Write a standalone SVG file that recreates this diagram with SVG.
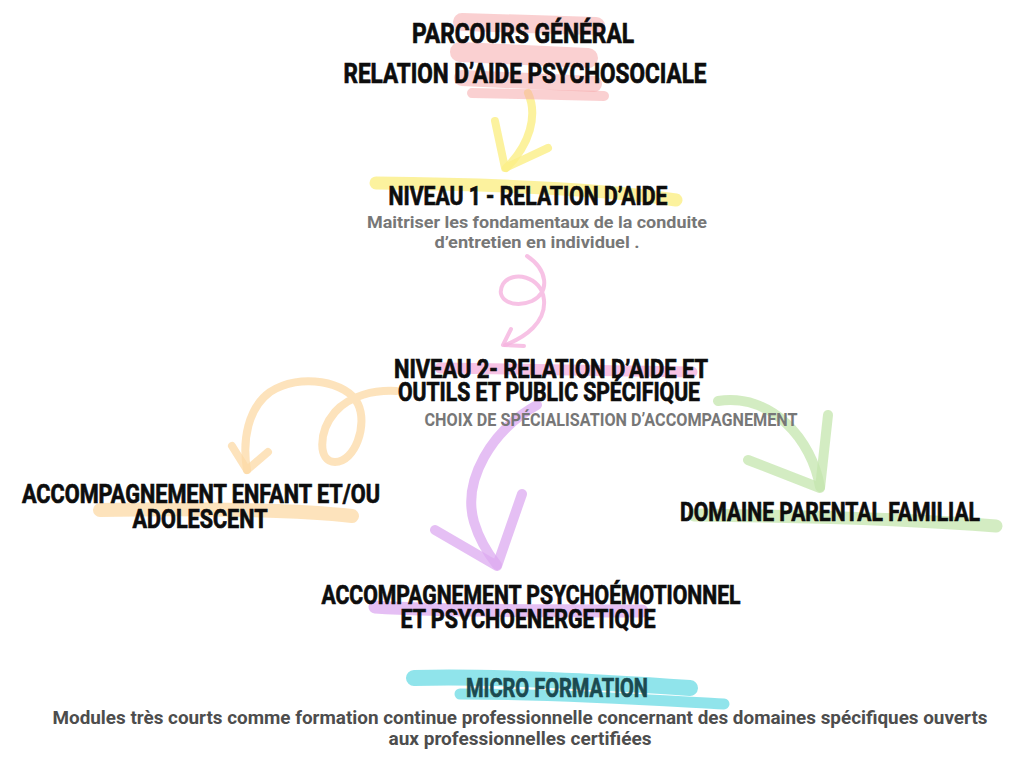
<svg xmlns="http://www.w3.org/2000/svg" width="1024" height="768" viewBox="0 0 1024 768">
<style>
  .h{font-family:"Roboto","Liberation Sans",sans-serif;font-weight:700;fill:#0d0d0d;stroke:#0d0d0d;stroke-width:0.7;text-anchor:middle;}
  .g{font-family:"Roboto","Liberation Sans",sans-serif;font-weight:700;fill:#777777;text-anchor:middle;}
  .d{font-family:"Roboto","Liberation Sans",sans-serif;font-weight:700;fill:#4d4d4d;text-anchor:middle;}
  .mk{fill:none;stroke-linecap:round;stroke-linejoin:round;}
  .red{stroke:#f6a9ab;opacity:0.55;}
  .yel{stroke:#fbef86;opacity:0.8;}
  .pnk{stroke:#f5b3df;opacity:0.8;}
  .org{stroke:#fcd9a6;opacity:0.75;}
  .pur{stroke:#dcaaf0;opacity:0.75;}
  .grn{stroke:#c4e5ae;opacity:0.75;}
  .cyn{stroke:#74dde6;opacity:0.8;}
</style>
<rect width="1024" height="768" fill="#ffffff"/>

<g id="connectors">
  <g id="c-yellow">
    <path class="mk yel" stroke-width="8" d="M528,93 C538,115 530,145 506,168"/>
    <path class="mk yel" stroke-width="8" d="M495,121 L505,168 L548,148"/>
  </g>
  <g id="c-pink">
    <path class="mk pnk" stroke-width="4" d="M527,256 C548,270 550,292 532,301 C514,309 494,300 503,284 C512,270 542,276 544,300 C546,322 526,337 505,345"/>
    <path class="mk pnk" stroke-width="4" d="M511,329 L503,345 L524,346"/>
  </g>
  <g id="c-orange">
    <path class="mk org" stroke-width="8" d="M396,391 C375,390 350,395 335,412 C318,432 318,462 335,462 C355,462 368,425 358,404 C348,382 300,372 270,392 C248,408 242,440 247,470"/>
    <path class="mk org" stroke-width="8" d="M232,446 L247,470 L268,452"/>
  </g>
  <g id="c-purple">
    <path class="mk pur" stroke-width="10" d="M537,405 C492,430 462,480 474,522 C480,542 489,555 497,565"/>
    <path class="mk pur" stroke-width="10" d="M435,530 L497,566 L522,494"/>
  </g>
  <g id="c-green">
    <path class="mk grn" stroke-width="10" d="M718,401 C772,393 812,440 820,487"/>
    <path class="mk grn" stroke-width="10" d="M748,460 L820,488 L828,415"/>
  </g>
</g>

<g id="node-parcours">
  <path class="mk red" stroke-width="18" d="M462,22 L596,26"/>
  <path class="mk red" stroke-width="20" d="M460,52 L588,58"/>
  <path class="mk red" stroke-width="16" d="M462,78 L594,84"/>
  <path class="mk red" stroke-width="10" d="M472,93 L604,96"/>
  <text class="h" x="523" y="43" font-size="27" textLength="222" lengthAdjust="spacingAndGlyphs">PARCOURS GÉNÉRAL</text>
  <text class="h" x="525" y="83" font-size="27" textLength="363" lengthAdjust="spacingAndGlyphs">RELATION D’AIDE PSYCHOSOCIALE</text>
</g>

<g id="node-niveau1">
  <path class="mk yel" stroke-width="13" d="M376,183 C470,184 600,188 676,200"/>
  <text class="h" x="528" y="205" font-size="26" textLength="279" lengthAdjust="spacingAndGlyphs">NIVEAU 1 - RELATION D’AIDE</text>
  <text class="g" x="537" y="228" font-size="16" textLength="340" lengthAdjust="spacingAndGlyphs">Maitriser les fondamentaux de la conduite</text>
  <text class="g" x="537" y="248" font-size="16" textLength="205" lengthAdjust="spacingAndGlyphs">d’entretien en individuel .</text>
</g>

<g id="node-niveau2">
  <path class="mk pnk" stroke-width="11" d="M440,368 L692,372"/>
  <text class="h" x="551" y="378" font-size="25" textLength="314" lengthAdjust="spacingAndGlyphs">NIVEAU 2-  RELATION D’AIDE ET</text>
  <text class="h" x="549" y="401" font-size="25" textLength="302" lengthAdjust="spacingAndGlyphs">OUTILS ET PUBLIC SPÉCIFIQUE</text>
  <text class="g" x="611" y="426" font-size="18" textLength="373" lengthAdjust="spacingAndGlyphs">CHOIX DE SPÉCIALISATION D’ACCOMPAGNEMENT</text>
</g>

<g id="node-enfant">
  <path class="mk org" stroke-width="14" d="M100,510 C200,508 300,510 352,516"/>
  <text class="h" x="201" y="503" font-size="25" textLength="358" lengthAdjust="spacingAndGlyphs">ACCOMPAGNEMENT ENFANT ET/OU</text>
  <text class="h" x="200" y="528" font-size="25" textLength="135" lengthAdjust="spacingAndGlyphs">ADOLESCENT</text>
</g>

<g id="node-parental">
  <path class="mk grn" stroke-width="13" d="M694,515 C800,516 900,518 996,526"/>
  <text class="h" x="830" y="521" font-size="26" textLength="300" lengthAdjust="spacingAndGlyphs">DOMAINE PARENTAL FAMILIAL</text>
</g>

<g id="node-psycho">
  <path class="mk pur" stroke-width="13" d="M375,607 C450,612 560,610 642,611"/>
  <text class="h" x="531" y="604" font-size="25" textLength="419" lengthAdjust="spacingAndGlyphs">ACCOMPAGNEMENT PSYCHOÉMOTIONNEL</text>
  <text class="h" x="528" y="628" font-size="25" textLength="255" lengthAdjust="spacingAndGlyphs">ET PSYCHOENERGETIQUE</text>
</g>

<g id="node-micro">
  <path class="mk cyn" stroke-width="16" d="M414,678 C500,676 600,682 690,688"/>
  <path class="mk cyn" stroke-width="11" d="M460,694 C560,694 650,700 724,704"/>
  <text class="h" x="557" y="697" font-size="26" textLength="182" lengthAdjust="spacingAndGlyphs" style="fill:#1b4a50;stroke:#1b4a50">MICRO FORMATION</text>
  <text class="d" x="520" y="724" font-size="18" textLength="935" lengthAdjust="spacingAndGlyphs">Modules très courts comme formation continue professionnelle concernant des domaines spécifiques ouverts</text>
  <text class="d" x="520" y="745" font-size="18" textLength="263" lengthAdjust="spacingAndGlyphs">aux professionnelles certifiées</text>
</g>
</svg>
